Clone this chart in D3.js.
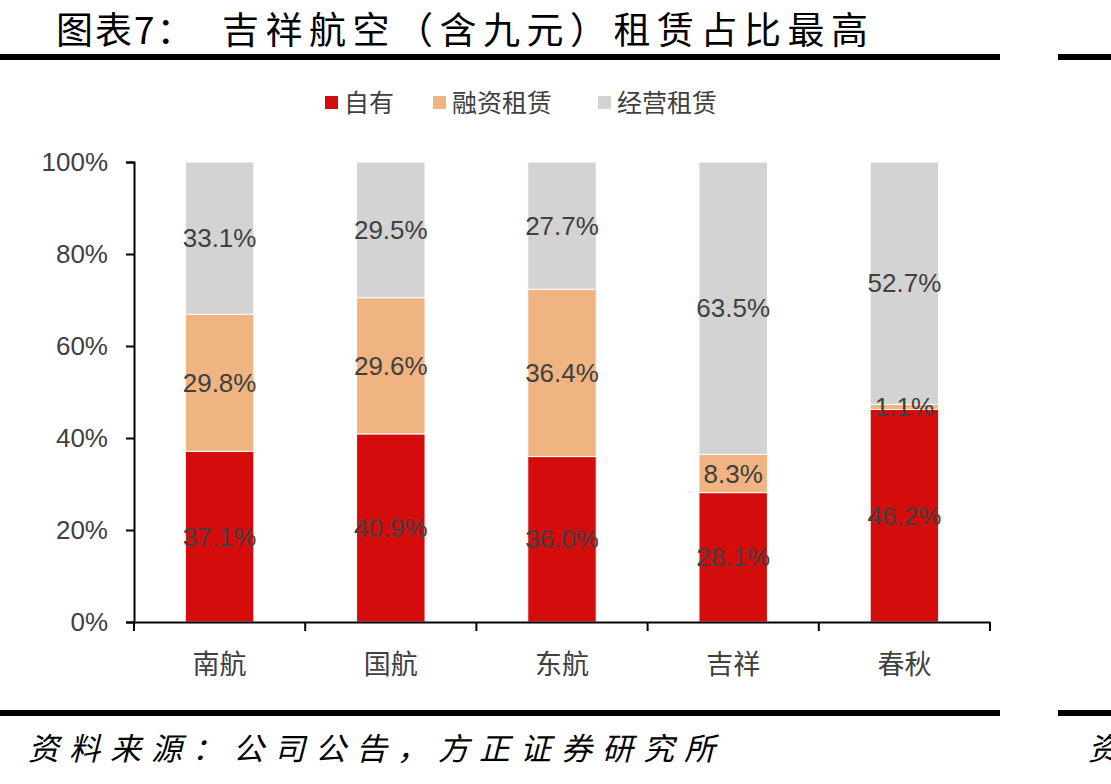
<!DOCTYPE html>
<html>
<head>
<meta charset="utf-8">
<script src="https://cdn.jsdelivr.net/npm/d3@7"></script>
<style>
  body { margin: 0; background: #fff; }
  svg { display: block; }
</style>
</head>
<body>
<script>
var w = 1111; // canvas width
var h = 784;  // canvas height

// data
var categories = ["南航", "国航", "东航", "吉祥", "春秋"];
var seriesNames = ["自有", "融资租赁", "经营租赁"];
var owned = [37.1, 40.9, 36.0, 28.1, 46.2];
var financeLease = [29.8, 29.6, 36.4, 8.3, 1.1];
var operatingLease = [33.1, 29.5, 27.7, 63.5, 52.7];
var yTicks = [0, 20, 40, 60, 80, 100];
var colors = ["#D40C0C", "#F0B482", "#D3D3D3"];

var font = "'Noto Sans CJK SC', 'Liberation Sans', sans-serif";
var numFont = "'Liberation Sans Narrow', 'Liberation Sans', sans-serif";

// build rows for the stack (100% stacked)
var rows = categories.map(function(c, i) {
  var total = owned[i] + financeLease[i] + operatingLease[i];
  return {
    cat: c,
    "自有": owned[i] / total * 100,
    "融资租赁": financeLease[i] / total * 100,
    "经营租赁": operatingLease[i] / total * 100,
    raw: [owned[i], financeLease[i], operatingLease[i]]
  };
});

var layers = d3.stack().keys(seriesNames)(rows);

var plotLeft = 134, plotRight = 990, plotTop = 162, plotBottom = 622;

var xScale = d3.scaleBand()
  .domain(categories)
  .range([plotLeft, plotRight])
  .paddingInner(0.6)
  .paddingOuter(0.3);

var xBand = d3.scaleBand().domain(categories).range([plotLeft, plotRight]);

var yScale = d3.scaleLinear()
  .domain([0, 100])
  .range([plotBottom, plotTop]);

var svg = d3.select("body").append("svg")
  .attr("width", w)
  .attr("height", h);

// title
svg.append("text")
  .attr("x", 56)
  .attr("y", 44)
  .attr("font-family", font)
  .attr("font-size", 37)
  .attr("letter-spacing", 2)
  .attr("fill", "#000")
  .text("图表7：");
svg.append("text")
  .attr("x", 222)
  .attr("y", 44)
  .attr("font-family", font)
  .attr("font-size", 37)
  .attr("letter-spacing", 6.5)
  .attr("fill", "#000")
  .text("吉祥航空（含九元）租赁占比最高");

// thick rules
svg.append("rect").attr("x", 0).attr("y", 54).attr("width", 1000).attr("height", 6).attr("fill", "#000");
svg.append("rect").attr("x", 1058).attr("y", 54).attr("width", 53).attr("height", 6).attr("fill", "#000");
svg.append("rect").attr("x", 0).attr("y", 710).attr("width", 1000).attr("height", 6).attr("fill", "#000");
svg.append("rect").attr("x", 1058).attr("y", 710).attr("width", 53).attr("height", 6).attr("fill", "#000");

// source
svg.append("text")
  .attr("x", 28)
  .attr("y", 760)
  .attr("font-family", font)
  .attr("font-size", 31)
  .attr("font-style", "italic")
  .attr("letter-spacing", 10)
  .attr("fill", "#000")
  .text("资料来源：公司公告，方正证券研究所");
svg.append("text")
  .attr("x", 1088)
  .attr("y", 760)
  .attr("font-family", font)
  .attr("font-size", 31)
  .attr("font-style", "italic")
  .attr("fill", "#000")
  .text("资");

// legend
var legendX = [325, 433, 598];
var legend = svg.append("g");
seriesNames.forEach(function(name, i) {
  legend.append("rect")
    .attr("x", legendX[i])
    .attr("y", 96)
    .attr("width", 13)
    .attr("height", 13)
    .attr("fill", colors[i]);
  legend.append("text")
    .attr("x", legendX[i] + 19)
    .attr("y", 112)
    .attr("font-family", font)
    .attr("font-size", 25)
    .attr("fill", "#404040")
    .text(name);
});

// bars
var groups = svg.selectAll("g.layer")
  .data(layers)
  .enter().append("g")
  .attr("class", "layer")
  .attr("fill", function(d, i) { return colors[i]; });

groups.selectAll("rect")
  .data(function(d) { return d; })
  .enter().append("rect")
  .attr("x", function(d) { return xScale(d.data.cat); })
  .attr("y", function(d) { return yScale(d[1]); })
  .attr("width", xScale.bandwidth())
  .attr("height", function(d) { return yScale(d[0]) - yScale(d[1]); })
  .attr("stroke", "#fff")
  .attr("stroke-width", 1);

// data labels
layers.forEach(function(layer, si) {
  svg.selectAll("text.lab" + si)
    .data(layer)
    .enter().append("text")
    .attr("class", "lab" + si)
    .attr("x", function(d) { return xScale(d.data.cat) + xScale.bandwidth() / 2; })
    .attr("y", function(d) { return yScale((d[0] + d[1]) / 2) + 9; })
    .attr("text-anchor", "middle")
    .attr("font-family", numFont)
    .attr("font-size", 26)
    .attr("fill", "#404040")
    .text(function(d) { return d.data.raw[si].toFixed(1) + "%"; });
});

// y axis
var yAxis = d3.axisLeft(yScale)
  .tickValues(yTicks)
  .tickSize(8)
  .tickPadding(18)
  .tickFormat(function(d) { return d + "%"; });

var gy = svg.append("g")
  .attr("transform", "translate(" + plotLeft + ",0)")
  .call(yAxis);
gy.select(".domain").attr("stroke", "#000").attr("stroke-width", 2);
gy.selectAll(".tick line").attr("stroke", "#000").attr("stroke-width", 2);
gy.selectAll(".tick text")
  .attr("font-family", numFont)
  .attr("font-size", 26)
  .attr("fill", "#404040");

// x axis
var xAxis = d3.axisBottom(xBand)
  .tickSize(0)
  .tickPadding(33);

var gx = svg.append("g")
  .attr("transform", "translate(0," + plotBottom + ")")
  .call(xAxis);
gx.select(".domain").attr("stroke", "#000").attr("stroke-width", 2);
gx.selectAll(".tick text")
  .attr("font-family", font)
  .attr("font-size", 27)
  .attr("fill", "#404040");

// x boundary ticks between categories
var bounds = categories.map(function(c) { return xBand(c); }).concat([plotRight]);
gx.selectAll("line.bound")
  .data(bounds)
  .enter().append("line")
  .attr("class", "bound")
  .attr("x1", function(d) { return d; })
  .attr("x2", function(d) { return d; })
  .attr("y1", 0)
  .attr("y2", 9)
  .attr("stroke", "#000")
  .attr("stroke-width", 2);
</script>
</body>
</html>
